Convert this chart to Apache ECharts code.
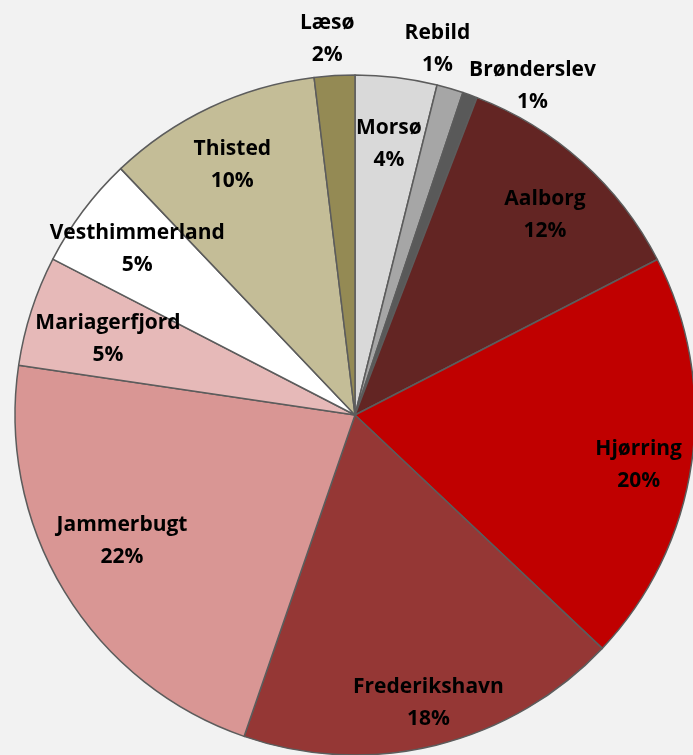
<!DOCTYPE html>
<html>
<head>
<meta charset="utf-8">
<script src="https://cdn.jsdelivr.net/npm/echarts@6/dist/echarts.min.js"></script>
<style>
  html, body { margin: 0; padding: 0; background: #f2f2f2; }
  #chart { width: 693px; height: 755px; }
</style>
</head>
<body>
<div id="chart"></div>
<script>
var myChart = echarts.init(document.getElementById('chart'));

// municipalities, clockwise from 12 o'clock
var names = ['Morsø', 'Rebild', 'Brønderslev', 'Aalborg', 'Hjørring', 'Frederikshavn',
  'Jammerbugt', 'Mariagerfjord', 'Vesthimmerland', 'Thisted', 'Læsø'];
var shares = [3.88, 1.26, 0.70, 11.6, 19.6, 18.25, 22.05, 5.24, 5.32, 10.18, 1.92];
var COLORS = ['#d9d9d9', '#a6a6a6', '#595959', '#632523', '#c00000', '#953735',
  '#d99694', '#e6b9b8', '#ffffff', '#c4bd97', '#948a54'];
// small slices get their label above the pie
var outside = ['Rebild', 'Brønderslev', 'Læsø'];
// nudges so labels sit where the original put them
var labelOffsets = {
  'Morsø': [0, 5], 'Aalborg': [4, 7], 'Hjørring': [8, 11], 'Frederikshavn': [7, 18],
  'Jammerbugt': [5, -18], 'Mariagerfjord': [18, 9], 'Vesthimmerland': [5, 1],
  'Thisted': [-4, 2], 'Rebild': [-23, -4], 'Brønderslev': [50, 26], 'Læsø': [-5, 0]
};

var R = 340;
var CENTER = [355, 415];

var labelStyle = {
  color: '#000',
  fontFamily: '"Open Sans", Lato, sans-serif',
  fontWeight: 'bold',
  fontSize: 21,
  lineHeight: 32,
  formatter: function (p) { return p.name + '\n' + Math.round(p.percent) + '%'; }
};

var pieData = names.map(function (n, i) {
  return { name: n, value: shares[i], itemStyle: { color: COLORS[i] } };
});

function labelData(showOutside) {
  return names.map(function (n, i) {
    var isOut = outside.indexOf(n) >= 0;
    return {
      name: n, value: shares[i],
      label: { show: isOut === showOutside, offset: labelOffsets[n] || [0, 0] }
    };
  });
}

var transparent = { color: 'rgba(0,0,0,0)', borderWidth: 0 };

option = {
  backgroundColor: '#f2f2f2',
  animation: false,
  series: [
    {
      type: 'pie',
      center: CENTER,
      radius: R,
      startAngle: 90,
      clockwise: true,
      silent: true,
      label: { show: false },
      labelLine: { show: false },
      itemStyle: { borderColor: '#5c5c5c', borderWidth: 1.5 },
      data: pieData
    },
    {
      type: 'pie',
      center: CENTER,
      radius: [R * 0.62, R],
      startAngle: 90,
      silent: true,
      avoidLabelOverlap: false,
      itemStyle: transparent,
      label: Object.assign({ position: 'inside' }, labelStyle),
      labelLine: { show: false },
      labelLayout: { hideOverlap: false },
      data: labelData(false)
    },
    {
      type: 'pie',
      center: CENTER,
      radius: [R, R * 1.2],
      startAngle: 90,
      silent: true,
      avoidLabelOverlap: false,
      itemStyle: transparent,
      label: Object.assign({ position: 'inside' }, labelStyle),
      labelLine: { show: false },
      labelLayout: { hideOverlap: false },
      data: labelData(true)
    }
  ]
};

myChart.setOption(option);
</script>
</body>
</html>
